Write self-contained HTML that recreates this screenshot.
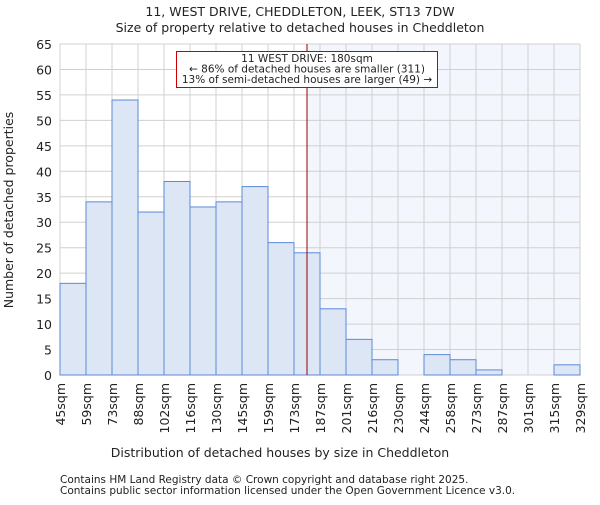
<!DOCTYPE html>
<html><head><meta charset="utf-8"><style>
body{margin:0;background:#fff;}
svg text{font-family:"DejaVu Sans","Liberation Sans",sans-serif;fill:#222;}
</style></head><body>
<svg id="chart" width="600" height="500" xmlns="http://www.w3.org/2000/svg">
<text x="300" y="16" text-anchor="middle" font-size="12.5">11, WEST DRIVE, CHEDDLETON, LEEK, ST13 7DW</text>
<text x="300" y="32" text-anchor="middle" font-size="12.5">Size of property relative to detached houses in Cheddleton</text>
<g id="plot"></g>
<text x="280" y="457" text-anchor="middle" font-size="12.5">Distribution of detached houses by size in Cheddleton</text>
<text transform="translate(13,210) rotate(-90)" text-anchor="middle" font-size="12.5">Number of detached properties</text>
<text x="60" y="483" font-size="10.5">Contains HM Land Registry data © Crown copyright and database right 2025.</text>
<text x="60" y="494" font-size="10.5">Contains public sector information licensed under the Open Government Licence v3.0.</text>
</svg>
<script>
const categories=["45sqm","59sqm","73sqm","88sqm","102sqm","116sqm","130sqm","145sqm","159sqm","173sqm","187sqm","201sqm","216sqm","230sqm","244sqm","258sqm","273sqm","287sqm","301sqm","315sqm","329sqm"];
const counts=[18,34,54,32,38,33,34,37,26,24,13,7,3,0,4,3,1,0,0,2];
const yTicks=[0,5,10,15,20,25,30,35,40,45,50,55,60,65];
const markerBin=9.5;
const X0=60,X1=580,Y0=375,Y1=44,YMAX=65;
const nb=counts.length,bw=(X1-X0)/nb;
const xs=i=>X0+i*bw;
const ys=v=>Y0-(v/YMAX)*(Y0-Y1);
const g=document.getElementById('plot');
const NS="http://www.w3.org/2000/svg";
function mk(t,a){const e=document.createElementNS(NS,t);for(const k in a)e.setAttribute(k,a[k]);g.appendChild(e);return e;}
const mx=xs(markerBin);
const sh=mk('rect',{x:mx,y:Y1,width:X1-mx,height:Y0-Y1,fill:'#f3f6fd'});


for(let i=0;i<=nb;i++){const l=mk('line',{x1:xs(i),x2:xs(i),y1:Y1,y2:Y0,stroke:'#d0d0d0','stroke-width':1});

}
yTicks.forEach(t=>{const l=mk('line',{x1:X0,x2:X1,y1:ys(t),y2:ys(t),stroke:'#d0d0d0','stroke-width':1});


const tx=mk('text',{x:X0-8,y:ys(t)+5,'text-anchor':'end','font-size':12.5});tx.textContent=t;

});
counts.forEach((c,i)=>{if(c<=0)return;const r=mk('rect',{x:xs(i),y:ys(c),width:bw,height:Y0-ys(c),fill:'#dce6f4',stroke:'#5b8ad6','stroke-width':1});

});
categories.forEach((c,i)=>{const tx=mk('text',{transform:`translate(${xs(i)+5},${Y0+8}) rotate(-90)`,'text-anchor':'end','font-size':12.5});tx.textContent=c;

});
const ml=mk('line',{x1:mx,x2:mx,y1:Y1,y2:Y0,stroke:'#990000','stroke-width':1});


const bx=mk('rect',{x:176.5,y:51.5,width:261,height:36,fill:'#fff',stroke:'#cc0000','stroke-width':1});


["11 WEST DRIVE: 180sqm","← 86% of detached houses are smaller (311)","13% of semi-detached houses are larger (49) →"].forEach((s,k)=>{const tx=mk('text',{x:307,y:62+k*10.5,'text-anchor':'middle','font-size':10.5});tx.textContent=s;

});
</script>
</body></html>
